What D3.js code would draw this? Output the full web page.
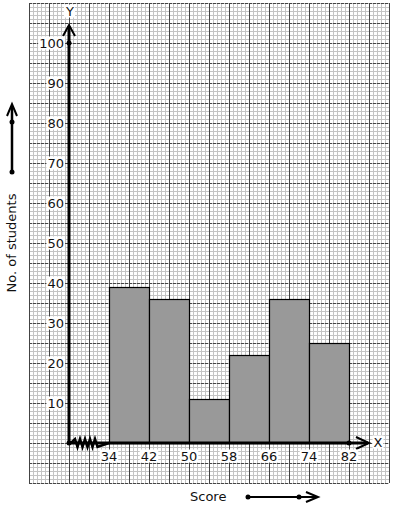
<!DOCTYPE html>
<html><head><meta charset="utf-8">
<script src="https://cdn.jsdelivr.net/npm/d3@7"></script>
<style>body{margin:0;background:#fff}svg{display:block}text{font-family:"DejaVu Sans",sans-serif}</style>
</head><body><svg id="c" width="394" height="510"></svg>
<script>
const binStarts = [34, 42, 50, 58, 66, 74];
const binEnds = [42, 50, 58, 66, 74, 82];
const students = [39, 36, 11, 22, 36, 25];
const xTickLabels = [34, 42, 50, 58, 66, 74, 82];
const yTickLabels = [10, 20, 30, 40, 50, 60, 70, 80, 90, 100];

const svg = d3.select("#c");
const x = d3.scaleLinear().domain([34, 82]).range([109, 349]);
const y = d3.scaleLinear().domain([0, 100]).range([443, 43]);

// graph paper
const gx0 = 29, gx1 = 389, gy0 = 3, gy1 = 483;
const g = svg.append("g").attr("shape-rendering", "crispEdges");
d3.range(gx0, gx1 + 1, 4).forEach(v => g.append("line").attr("x1", v + .5).attr("x2", v + .5).attr("y1", gy0).attr("y2", gy1).attr("stroke", "#c4c4c4"));
d3.range(gy0, gy1 + 1, 4).forEach(v => g.append("line").attr("y1", v + .5).attr("y2", v + .5).attr("x1", gx0).attr("x2", gx1).attr("stroke", "#c4c4c4"));
d3.range(gx0, gx1 + 1, 20).forEach(v => g.append("line").attr("x1", v + .5).attr("x2", v + .5).attr("y1", gy0).attr("y2", gy1).attr("stroke", "#444"));
d3.range(gy0, gy1 + 1, 20).forEach(v => g.append("line").attr("y1", v + .5).attr("y2", v + .5).attr("x1", gx0).attr("x2", gx1).attr("stroke", "#444").attr("stroke-dasharray", "3,1"));

// bars
svg.append("g").selectAll("rect").data(students).join("rect")
  .attr("x", (d, i) => x(binStarts[i]) + .5)
  .attr("width", (d, i) => x(binEnds[i]) - x(binStarts[i]))
  .attr("y", d => y(d) + .5)
  .attr("height", d => y(0) - y(d))
  .attr("fill", "#999").attr("stroke", "#000").attr("stroke-width", 1.2);

// axes
const ax = svg.append("g");
ax.append("line").attr("x1", 69).attr("x2", 69).attr("y1", y(0)).attr("y2", 26).attr("stroke", "#000").attr("stroke-width", 3);
ax.append("path").attr("d", `M63,36 L69,25 L75,36`).attr("fill", "none").attr("stroke", "#000").attr("stroke-width", 2);
ax.append("line").attr("x1", 69).attr("x2", 368).attr("y1", y(0)).attr("y2", y(0)).attr("stroke", "#000").attr("stroke-width", 3);
ax.append("path").attr("d", `M356,${y(0)-6} L369,${y(0)} L356,${y(0)+6}`).attr("fill", "none").attr("stroke", "#000").attr("stroke-width", 2);
// break zigzag
let zz = `M71,${y(0)}`;
for (let i = 0; i < 5; i++) { const b = 75 + i * 5; zz += ` L${b},${y(0)-4} L${b+2.5},${y(0)+4}`; }
zz += ` L${x(34)},${y(0)}`;
ax.append("path").attr("d", zz).attr("fill", "none").attr("stroke", "#000").attr("stroke-width", 2.5);
[[69, y(0)], [69, y(100)], [x(82), y(0)]].forEach(p => ax.append("circle").attr("cx", p[0]).attr("cy", p[1]).attr("r", 2.5).attr("fill", "#000"));

function label(t, cx, cy, anchor) {
  const tx = svg.append("text").attr("x", cx).attr("y", cy).attr("text-anchor", anchor).attr("dominant-baseline", "central").attr("font-size", 13).attr("fill", "#111").text(t);
  const b = tx.node().getBBox();
  svg.insert("rect", () => tx.node()).attr("x", b.x - 1).attr("y", b.y + 1).attr("width", b.width + 2).attr("height", b.height - 2).attr("fill", "#fff");
}
yTickLabels.forEach(v => label(v, 64, y(v), "end"));
xTickLabels.forEach(v => label(v, x(v), 456, "middle"));
label("Y", 70, 11, "middle");
label("X", 378, y(0) - 1, "middle");

// axis titles
svg.append("text").attr("transform", "translate(16,243) rotate(-90)").attr("text-anchor", "middle").attr("font-size", 13).attr("fill", "#111").text("No. of students");
svg.append("text").attr("x", 190).attr("y", 501).attr("font-size", 13).attr("fill", "#111").text("Score");
const ar = svg.append("g").attr("stroke", "#000").attr("fill", "none");
ar.append("line").attr("x1", 12).attr("x2", 12).attr("y1", 172).attr("y2", 106).attr("stroke-width", 2.5);
ar.append("path").attr("d", "M7,116 L12,104 L17,116").attr("stroke-width", 2);
ar.append("line").attr("x1", 248).attr("x2", 316).attr("y1", 497).attr("y2", 497).attr("stroke-width", 2);
ar.append("path").attr("d", "M306,492 L318,497 L306,502").attr("stroke-width", 2);
[[12, 172], [12, 122], [248, 497], [299, 497]].forEach(p => svg.append("circle").attr("cx", p[0]).attr("cy", p[1]).attr("r", 2.5).attr("fill", "#000"));
</script></body></html>
